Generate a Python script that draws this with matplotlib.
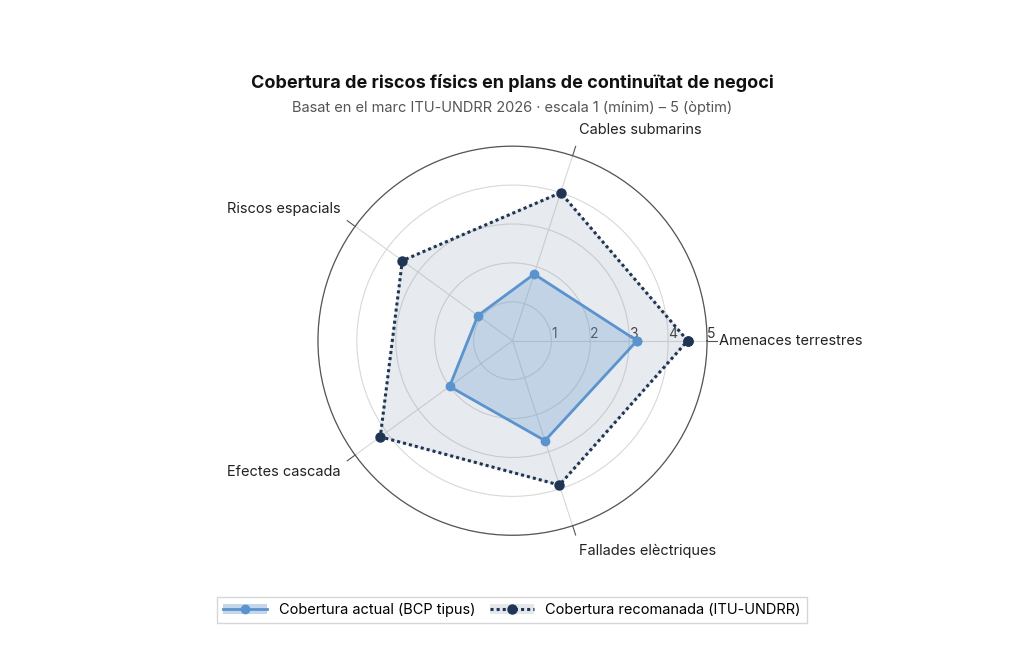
import numpy as np
import matplotlib
matplotlib.use("Agg")
import matplotlib.pyplot as plt
from matplotlib.lines import Line2D
from matplotlib.patches import Patch

categories = ["Amenaces terrestres", "Cables submarins", "Riscos espacials", "Efectes cascada", "Fallades elèctriques"]
actual = [3.2, 1.8, 1.1, 2.0, 2.7]
recomanada = [4.5, 4.0, 3.5, 4.2, 3.9]
rticks = [1, 2, 3, 4, 5]

plt.rcParams['font.family'] = ['Inter', 'DejaVu Sans']
fig = plt.figure(figsize=(10.24, 6.49), dpi=100)
ax = fig.add_axes([0.3105, 0.175, 0.38, 0.6], projection='polar')
ax.set_ylim(0, 5)
n = len(categories)
ang = np.linspace(0, 2*np.pi, n, endpoint=False)
a = np.append(ang, ang[0])

r = np.append(recomanada, recomanada[0])
ax.fill(a, r, color='#8a98ab', alpha=0.2, zorder=2)
ax.plot(a, r, color='#1f3554', lw=2.2, ls=(0, (1, 1)), marker='o', ms=6.5, zorder=4)
c = np.append(actual, actual[0])
ax.fill(a, c, color='#6d9fd3', alpha=0.3, zorder=3)
ax.plot(a, c, color='#5b93cf', lw=2, marker='o', ms=6, zorder=5)

ax.set_xticks(ang)
ax.set_xticklabels([])
ax.set_yticks(rticks)
ax.set_yticklabels([str(t) for t in rticks], fontsize=10, color='#333333')
ax.set_rlabel_position(0)
ax.grid(color='#d8d8d8', lw=0.8)
ax.spines['polar'].set_color('#555555')
ax.spines['polar'].set_linewidth(0.9)
for t in ang:
    ax.plot([t, t], [5, 5.25], color='#555555', lw=0.8, clip_on=False)
for t in rticks:
    ax.plot([0, 0], [t - 0.0, t], color='#555', lw=0)
offs = [(5.3, 'left', 'center'), (5.5, 'left', 'bottom'), (5.45, 'right', 'bottom'),
        (5.45, 'right', 'top'), (5.5, 'left', 'top')]
for t, lab, (rr, ha, va) in zip(ang, categories, offs):
    ax.text(t, rr, lab, ha=ha, va=va, fontsize=10.5, color='#222222')

fig.text(0.5, 0.865, "Cobertura de riscos físics en plans de continuïtat de negoci",
         ha='center', fontsize=13, fontweight='bold', color='#111111')
fig.text(0.5, 0.828, "Basat en el marc ITU-UNDRR 2026 · escala 1 (mínim) – 5 (òptim)",
         ha='center', fontsize=10.5, color='#555555')

h1 = (Patch(facecolor='#c5d6ea', edgecolor='none'),
      Line2D([], [], color='#5b93cf', lw=2, marker='o', ms=6))
h2 = (Patch(facecolor='#e4e7ec', edgecolor='none'),
      Line2D([], [], color='#1f3554', lw=2.2, ls=(0, (1, 1)), marker='o', ms=6.5))
fig.legend([h1, h2], ["Cobertura actual (BCP tipus)", "Cobertura recomanada (ITU-UNDRR)"],
           loc='center', bbox_to_anchor=(0.5, 0.06), ncol=2, fontsize=10.5,
           frameon=True, fancybox=False, edgecolor='#cccccc', handlelength=3, columnspacing=1)
fig.savefig("out.png", dpi=100)
